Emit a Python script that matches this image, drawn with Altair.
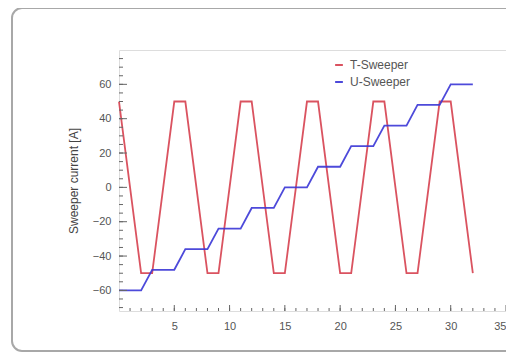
import altair as alt
import pandas as pd

# T-Sweeper vertices
t_x = [0, 2, 3, 5, 6, 8, 9, 11, 12, 14, 15, 17, 18, 20, 21, 23, 24, 26, 27, 29, 30, 32]
t_y = [50, -50, -50, 50, 50, -50, -50, 50, 50, -50, -50, 50, 50, -50, -50, 50, 50, -50, -50, 50, 50, -50]
# U-Sweeper vertices
u_x = [0, 2, 3, 5, 6, 8, 9, 11, 12, 14, 15, 17, 18, 20, 21, 23, 24, 26, 27, 29, 30, 32]
u_y = [-60, -60, -48, -48, -36, -36, -24, -24, -12, -12, 0, 0, 12, 12, 24, 24, 36, 36, 48, 48, 60, 60]

series = ["T-Sweeper", "U-Sweeper"]
colors = ["#d6404f", "#3a36d6"]

x_labels = [5, 10, 15, 20, 25, 30, 35]
y_labels = [-60, -40, -20, 0, 20, 40, 60]
x_minor = list(range(1, 35))
y_minor = list(range(-70, 80, 5))

W, H = 387, 261
XDOM = [0, 35]
YDOM = [-72, 80]

df = pd.DataFrame(
    {"x": t_x + u_x, "y": t_y + u_y,
     "s": [series[0]] * len(t_x) + [series[1]] * len(u_x),
     "o": list(range(len(t_x))) + list(range(len(u_x)))}
)

xs = alt.Scale(domain=XDOM, nice=False, zero=False)
ys = alt.Scale(domain=YDOM, nice=False, zero=False)

x_axis = alt.Axis(values=x_labels, ticks=False, domain=False, grid=False,
                  labelPadding=9, labelColor="#555", labelFontSize=11,
                  labelFont="Liberation Sans", title=None, labelBound=False, labelOverlap=False)
y_axis = alt.Axis(values=y_labels, ticks=False, domain=False, grid=False,
                  labelPadding=8, labelColor="#555", labelFontSize=11,
                  labelFont="Liberation Sans", title="Sweeper current [A]",
                  titleFont="Liberation Sans", titleFontSize=12,
                  titleFontWeight="normal", titleColor="#444", titlePadding=12)

lines = alt.Chart(df).mark_line(strokeWidth=1.8, opacity=0.9).encode(
    x=alt.X("x:Q", scale=xs, axis=x_axis),
    y=alt.Y("y:Q", scale=ys, axis=y_axis),
    color=alt.Color("s:N", scale=alt.Scale(domain=series, range=colors),
                    legend=alt.Legend(title=None, orient="none", legendX=214, legendY=9,
                                      symbolType="stroke", symbolStrokeWidth=2, symbolSize=60,
                                      labelFontSize=12, labelColor="#555", labelFont="Liberation Sans",
                                      rowPadding=5, labelOffset=5)),
    order="o:Q",
)

xt_minor = alt.Chart(pd.DataFrame({"x": x_minor})).mark_rule(color="#666", strokeWidth=1).encode(
    x=alt.X("x:Q", scale=xs, axis=x_axis), y=alt.value(H), y2=alt.value(H - 3))
xt_major = alt.Chart(pd.DataFrame({"x": x_labels})).mark_rule(color="#666", strokeWidth=1).encode(
    x=alt.X("x:Q", scale=xs, axis=x_axis), y=alt.value(H), y2=alt.value(H - 6))
yt_minor = alt.Chart(pd.DataFrame({"y": y_minor})).mark_rule(color="#666", strokeWidth=1).encode(
    y=alt.Y("y:Q", scale=ys, axis=y_axis), x=alt.value(0), x2=alt.value(4))
yt_major = alt.Chart(pd.DataFrame({"y": y_labels})).mark_rule(color="#666", strokeWidth=1).encode(
    y=alt.Y("y:Q", scale=ys, axis=y_axis), x=alt.value(0), x2=alt.value(8))

card = alt.Chart(pd.DataFrame({"a": [0]})).mark_rect(
    fill=None, stroke="#a8a8a8", strokeWidth=2, cornerRadius=10
).encode(x=alt.value(-107), x2=alt.value(420), y=alt.value(-42), y2=alt.value(301))

chart = alt.layer(lines, card, xt_minor, xt_major, yt_minor, yt_major).properties(
    width=W, height=H,
    padding={"left": 111, "top": 42, "right": 0, "bottom": 42},
    autosize=alt.AutoSizeParams(type="none"),
).configure_view(stroke="#707070", strokeWidth=1.5).configure(background="white")

chart.save("out.html", embed_options={"renderer": "svg", "actions": False})
